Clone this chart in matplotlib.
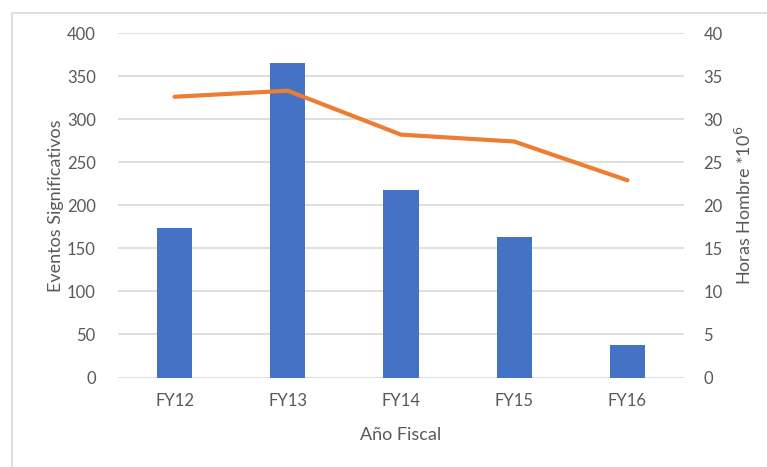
import matplotlib.pyplot as plt
from matplotlib.patches import Rectangle

# Significant events per fiscal year and man-hours (millions)
years = ['FY12', 'FY13', 'FY14', 'FY15', 'FY16']
eventos = [174, 365, 218, 163, 38]
horas_hombre = [32.6, 33.3, 28.2, 27.4, 22.9]

BAR_COLOR = '#4472C4'
LINE_COLOR = '#ED7D31'
GRID_COLOR = '#d9d9d9'
TEXT_COLOR = '#595959'

plt.rcParams['font.family'] = ['Lato', 'DejaVu Sans']

fig = plt.figure(figsize=(7.67, 4.67), dpi=100)
ax = fig.add_axes([0.1538, 0.1916, 0.7380, 0.7377])

x = range(len(years))
ax.bar(x, eventos, width=0.31, color=BAR_COLOR, zorder=2)
ax.set_xlim(-0.5, len(years) - 0.5)
ax.set_ylim(0, 400)
ax.set_yticks(range(0, 401, 50))
ax.set_xticks(list(x))
ax.set_xticklabels(years)
ax.grid(axis='y', color=GRID_COLOR, linewidth=1.2, zorder=0)
ax.set_axisbelow(True)

ax2 = ax.twinx()
ax2.plot(x, horas_hombre, color=LINE_COLOR, linewidth=3, solid_capstyle='round', zorder=3)
ax2.set_ylim(0, 40)
ax2.set_yticks(range(0, 41, 5))

for a in (ax, ax2):
    for s in a.spines.values():
        s.set_visible(False)
    a.tick_params(length=0, labelsize=12, labelcolor=TEXT_COLOR)
ax.tick_params(axis='y', pad=16)
ax.tick_params(axis='x', pad=11)
ax2.tick_params(axis='y', pad=14)

ax.set_xlabel('Año Fiscal', fontsize=13, color=TEXT_COLOR, labelpad=13)
ax.set_ylabel('Eventos Significativos', fontsize=13, color=TEXT_COLOR, labelpad=2)
ax2.set_ylabel('Horas Hombre *10$^6$', fontsize=13, color=TEXT_COLOR, labelpad=8)

# chart frame
fig.patches.append(Rectangle((12 / 767, -0.1), 2, 1 - 13 / 467 + 0.1,
                             transform=fig.transFigure, fill=False,
                             edgecolor=GRID_COLOR, linewidth=1.2))

fig.savefig('out.png', dpi=100)
